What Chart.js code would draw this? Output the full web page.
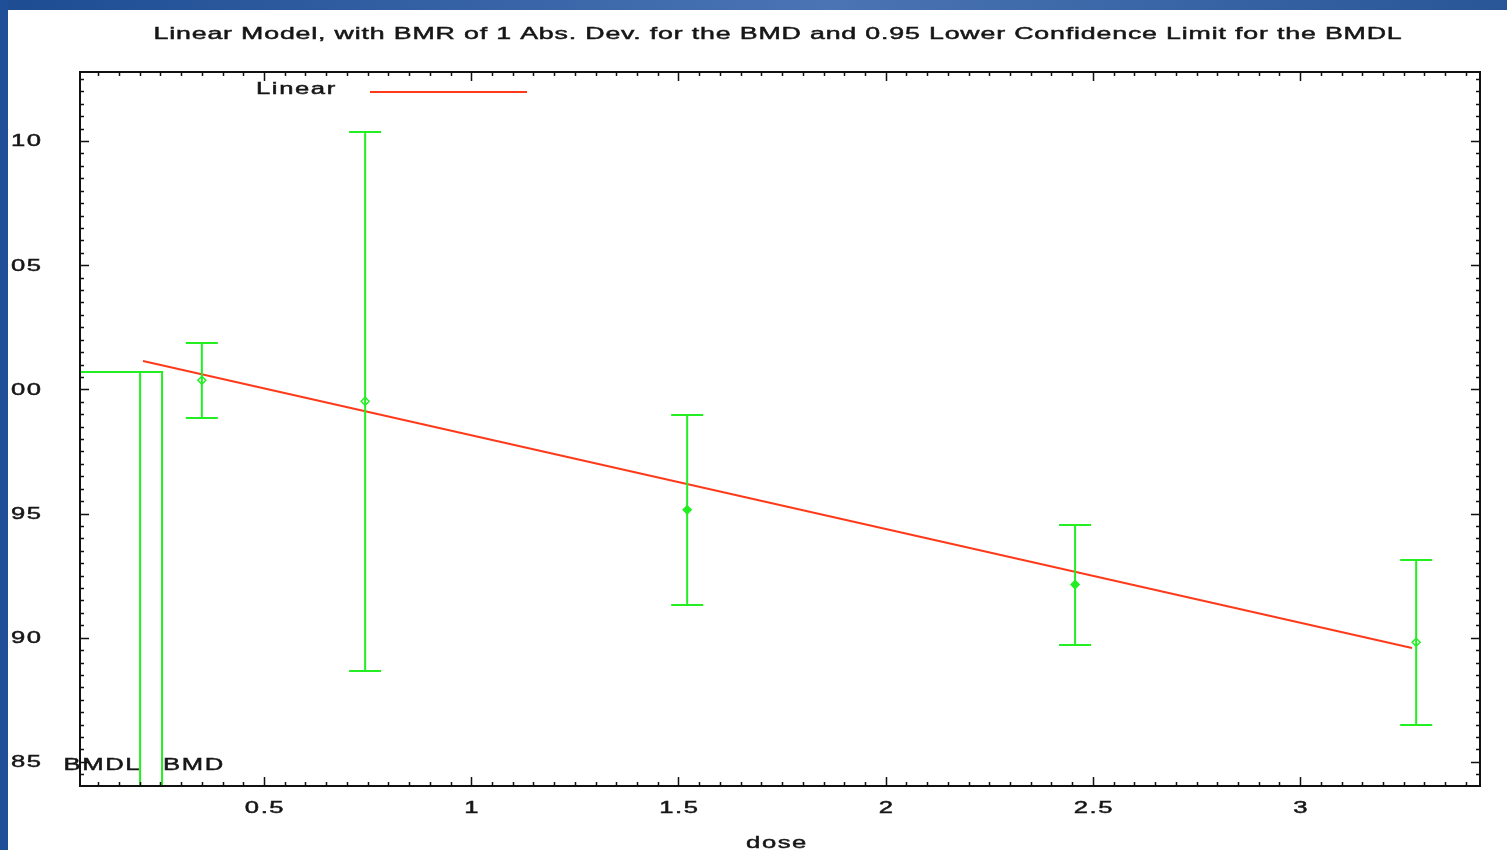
<!DOCTYPE html>
<html><head><meta charset="utf-8">
<script src="https://cdn.jsdelivr.net/npm/chart.js@4/dist/chart.umd.min.js"></script>
<style>html,body{margin:0;padding:0;background:#fff;overflow:hidden}canvas{display:block}</style>
</head><body><canvas id="c" width="1507" height="850"></canvas>
<script>
const titleText = 'Linear Model, with BMR of 1 Abs. Dev. for the BMD and 0.95 Lower Confidence Limit for the BMDL';
const legendLabel = 'Linear';
const xAxisTitle = 'dose';
const doses = [0.35, 0.744, 1.521, 2.457, 3.28];
const means = [100.37, 99.52, 95.15, 92.14, 89.82];
const lowerCI = [98.85, 88.66, 91.32, 89.71, 86.49];
const upperCI = [101.87, 110.36, 98.97, 94.54, 93.13];
const filledMarker = [false, false, true, true, false];
const fitDoses = [0.208, 3.27];
const fitValues = [101.14, 89.59];
const bmdl = 0.201;
const bmd = 0.254;
const bmrLevel = 100.70;
const xTickValues = [0.5, 1, 1.5, 2, 2.5, 3];
const xTickLabels = ['0.5', '1', '1.5', '2', '2.5', '3'];
const yTickValues = [85, 90, 95, 100, 105, 110];
const yTickLabels = ['85', '90', '95', '00', '05', '10'];
const xRange = [0.056, 3.434];
const yRange = [84.03, 112.78];

const GREEN = '#22ee22';
const RED = '#ff3a1a';
const FONT = '"Liberation Sans", Arial, sans-serif';
const SX = 1.6;

function stretchText(ctx, text, x, y, align, sx) {
  ctx.save();
  ctx.translate(x, y);
  ctx.scale(sx, 1);
  ctx.textAlign = align;
  ctx.fillText(text, 0, 0);
  ctx.lineWidth = 0.45;
  ctx.strokeStyle = ctx.fillStyle;
  ctx.strokeText(text, 0, 0);
  ctx.restore();
}

const custom = {
  id: 'custom',
  beforeDraw(chart) {
    const ctx = chart.ctx;
    ctx.save(); ctx.fillStyle = '#fff'; ctx.fillRect(0, 0, chart.width, chart.height); ctx.restore();
  },
  afterDatasetsDraw(chart) {
    const ctx = chart.ctx, xs = chart.scales.x, ys = chart.scales.y, a = chart.chartArea;
    ctx.save();
    ctx.strokeStyle = GREEN; ctx.lineWidth = 2;
    doses.forEach((d, i) => {
      const px = xs.getPixelForValue(d), pt = ys.getPixelForValue(upperCI[i]), pb = ys.getPixelForValue(lowerCI[i]);
      ctx.beginPath();
      ctx.moveTo(px, pt); ctx.lineTo(px, pb);
      ctx.moveTo(px - 16, pt); ctx.lineTo(px + 16, pt);
      ctx.moveTo(px - 16, pb); ctx.lineTo(px + 16, pb);
      ctx.stroke();
    });
    ctx.strokeStyle = '#111'; ctx.lineWidth = 2;
    ctx.strokeRect(a.left, a.top, a.right - a.left, a.bottom - a.top);
    ctx.lineWidth = 1.5;
    ctx.beginPath();
    for (let k = 2; k <= 68; k++) {
      const v = k * 0.05;
      if (v < xRange[0] || v > xRange[1]) continue;
      const L = k % 10 === 0 ? 9 : 4;
      const px = Math.round(xs.getPixelForValue(v)) + 0.5;
      ctx.moveTo(px, a.bottom); ctx.lineTo(px, a.bottom - L);
      ctx.moveTo(px, a.top); ctx.lineTo(px, a.top + L);
    }
    for (let k = 168; k <= 226; k++) {
      const v = k * 0.5;
      if (v < yRange[0] || v > yRange[1]) continue;
      const L = k % 10 === 0 ? 9 : 4;
      const py = Math.round(ys.getPixelForValue(v)) + 0.5;
      ctx.moveTo(a.left, py); ctx.lineTo(a.left + L, py);
      ctx.moveTo(a.right, py); ctx.lineTo(a.right - L, py);
    }
    ctx.stroke();
    ctx.restore();
  },
  afterDraw(chart) {
    const ctx = chart.ctx, xs = chart.scales.x, ys = chart.scales.y, a = chart.chartArea;
    ctx.save();
    ctx.fillStyle = '#161616';
    ctx.textBaseline = 'middle';
    ctx.font = '16px ' + FONT;
    ctx.letterSpacing = '1px';
    xs.ticks.forEach((t, i) => {
      const j = xTickValues.indexOf(t.value);
      if (j < 0) return;
      stretchText(ctx, xTickLabels[j], xs.getPixelForTick(i) + 1, 809, 'center', SX);
    });
    ys.ticks.forEach((t, i) => {
      const j = yTickValues.indexOf(t.value);
      if (j < 0) return;
      stretchText(ctx, yTickLabels[j], 11, ys.getPixelForTick(i) + 1, 'left', SX);
    });
    ctx.letterSpacing = '0.5px';
    const w0 = ctx.measureText(titleText).width;
    const target = 1249;
    stretchText(ctx, titleText, (a.left + a.right) / 2 - target / 2 - 2, 35, 'left', target / w0);
    ctx.letterSpacing = '1px';
    stretchText(ctx, legendLabel, 256, 90, 'left', 1.6);
    ctx.strokeStyle = RED; ctx.lineWidth = 2;
    ctx.beginPath(); ctx.moveTo(370, 92); ctx.lineTo(527, 92); ctx.stroke();
    ctx.letterSpacing = '1px';
    const ly = ys.getPixelForValue(85) + 4;
    stretchText(ctx, 'BMDL', xs.getPixelForValue(bmdl) + 1, ly, 'right', 1.6);
    stretchText(ctx, 'BMD', xs.getPixelForValue(bmd) + 1, ly, 'left', 1.6);
    stretchText(ctx, xAxisTitle, (a.left + a.right) / 2 - 3, 844, 'center', 1.6);
    const g = ctx.createLinearGradient(0, 0, chart.width, 0);
    g.addColorStop(0, '#1d4c93'); g.addColorStop(0.55, '#4a74b4'); g.addColorStop(1, '#295697');
    ctx.fillStyle = g; ctx.fillRect(0, 0, chart.width, 10);
    ctx.fillStyle = '#1f4f96'; ctx.fillRect(0, 0, 8, chart.height);
    ctx.restore();
  }
};

new Chart(document.getElementById('c'), {
  type: 'scatter',
  data: {
    datasets: [
      { label: legendLabel, data: fitDoses.map((x, i) => ({ x, y: fitValues[i] })), showLine: true,
        borderColor: RED, borderWidth: 2, pointRadius: 0 },
      { label: 'means', data: doses.map((x, i) => ({ x, y: means[i] })), pointStyle: 'rectRot',
        pointRadius: 4, borderColor: GREEN, borderWidth: 1.5,
        backgroundColor: filledMarker.map(f => f ? GREEN : 'rgba(255,255,255,0)') },
      { label: 'BMD', data: [{ x: xRange[0], y: bmrLevel }, { x: bmd, y: bmrLevel }, { x: bmd, y: yRange[0] }],
        showLine: true, borderColor: GREEN, borderWidth: 2, pointRadius: 0 },
      { label: 'BMDL', data: [{ x: bmdl, y: bmrLevel }, { x: bmdl, y: yRange[0] }],
        showLine: true, borderColor: GREEN, borderWidth: 2, pointRadius: 0 }
    ]
  },
  options: {
    responsive: false, animation: false,
    layout: { padding: { left: 10, top: 72, right: 27, bottom: 0 } },
    plugins: { legend: { display: false }, tooltip: { enabled: false }, title: { display: false } },
    scales: {
      x: {
        type: 'linear', min: xRange[0], max: xRange[1],
        grid: { display: false, drawTicks: false }, border: { display: false },
        afterFit: s => { s.height = 64; },
        afterBuildTicks: s => { s.ticks = xTickValues.map(v => ({ value: v })); },
        ticks: { display: false }
      },
      y: {
        type: 'linear', min: yRange[0], max: yRange[1],
        grid: { display: false, drawTicks: false }, border: { display: false },
        afterFit: s => { s.width = 70; },
        afterBuildTicks: s => { s.ticks = yTickValues.map(v => ({ value: v })); },
        ticks: { display: false }
      }
    }
  },
  plugins: [custom]
});
</script>
</body></html>
